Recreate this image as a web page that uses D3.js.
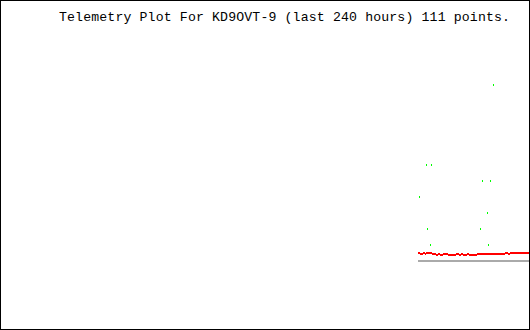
<!DOCTYPE html>
<html>
<head>
<meta charset="utf-8">
<script src="https://cdn.jsdelivr.net/npm/d3@7/dist/d3.min.js"></script>
<style>
  html, body { margin: 0; padding: 0; background: #fff; }
  svg { display: block; }
</style>
</head>
<body>
<script>
// ---- data ----
const title = "Telemetry Plot For KD9OVT-9 (last 240 hours) 111 points.";

// red series: one value per packet (111 packets), index 0..110
const redValues = [
  0.50, 0.50,
  0.44, 0.44, 0.44,
  0.50, 0.50,
  0.44,
  0.50, 0.50, 0.50, 0.50, 0.50, 0.50,
  0.44, 0.44, 0.44, 0.44,
  0.38, 0.38,
  0.44, 0.44,
  0.38, 0.38, 0.38,
  0.44, 0.44, 0.44, 0.44, 0.44,
  0.38, 0.38, 0.38, 0.38, 0.38, 0.38, 0.38, 0.38,
  0.44, 0.44, 0.44,
  0.38, 0.38,
  0.44, 0.44,
  0.38, 0.38, 0.38, 0.38,
  0.44, 0.44,
  0.38, 0.38, 0.38, 0.38, 0.38, 0.38, 0.38, 0.38,
  0.44, 0.44,
  0.44, 0.44, 0.44, 0.44, 0.44, 0.44, 0.44, 0.44, 0.44, 0.44, 0.44, 0.44, 0.44,
  0.44, 0.44, 0.44, 0.44, 0.44, 0.44, 0.44, 0.44, 0.44, 0.44, 0.44, 0.44, 0.44,
  0.50, 0.50, 0.50,
  0.44, 0.44,
  0.50, 0.50, 0.50, 0.50, 0.50, 0.50, 0.50, 0.50, 0.50, 0.50,
  0.50, 0.50, 0.50, 0.50, 0.50, 0.50, 0.50, 0.50, 0.50
];

// green series: sparse points (packet index, value)
const greenIndex  = [1, 8, 9, 12, 13, 62, 64, 69, 70, 72, 75];
const greenValues = [4, 6, 2, 1, 6, 2, 5, 3, 1, 5, 11];

// ---- chart ----
const W = 530, H = 330;
const svg = d3.select("body").append("svg")
  .attr("width", W).attr("height", H)
  .attr("shape-rendering", "crispEdges");

svg.append("rect").attr("x", 0).attr("y", 0).attr("width", W).attr("height", H)
  .attr("fill", "#fff");

const x = d3.scaleLinear().domain([0, redValues.length - 1]).range([418, 528]);
const y = d3.scaleLinear().domain([0, 15]).range([260, 20]);

// baseline
svg.append("rect")
  .attr("x", x(0)).attr("y", y(0))
  .attr("width", x(redValues.length - 1) - x(0) + 1).attr("height", 2)
  .attr("fill", "#aaaaaa");

// red series
svg.append("g").selectAll("rect").data(redValues).join("rect")
  .attr("x", (d, i) => Math.round(x(i)))
  .attr("y", d => Math.round(y(d)))
  .attr("width", 1).attr("height", 2)
  .attr("fill", "#ff0000");

// green series
svg.append("g").selectAll("rect").data(greenValues).join("rect")
  .attr("x", (d, i) => Math.round(x(greenIndex[i])))
  .attr("y", d => Math.round(y(d)))
  .attr("width", 1).attr("height", 2)
  .attr("fill", "#00ff00");

// title
svg.append("text")
  .attr("x", 59).attr("y", 21)
  .attr("font-family", "'Liberation Mono', 'DejaVu Sans Mono', monospace")
  .attr("font-size", 13.2)
  .attr("textLength", 451)
  .attr("lengthAdjust", "spacing")
  .attr("fill", "#000")
  .text(title);

// frame
svg.append("rect")
  .attr("x", 0.5).attr("y", 0.5).attr("width", W - 1).attr("height", H - 1)
  .attr("fill", "none").attr("stroke", "#000").attr("stroke-width", 1);
</script>
</body>
</html>
